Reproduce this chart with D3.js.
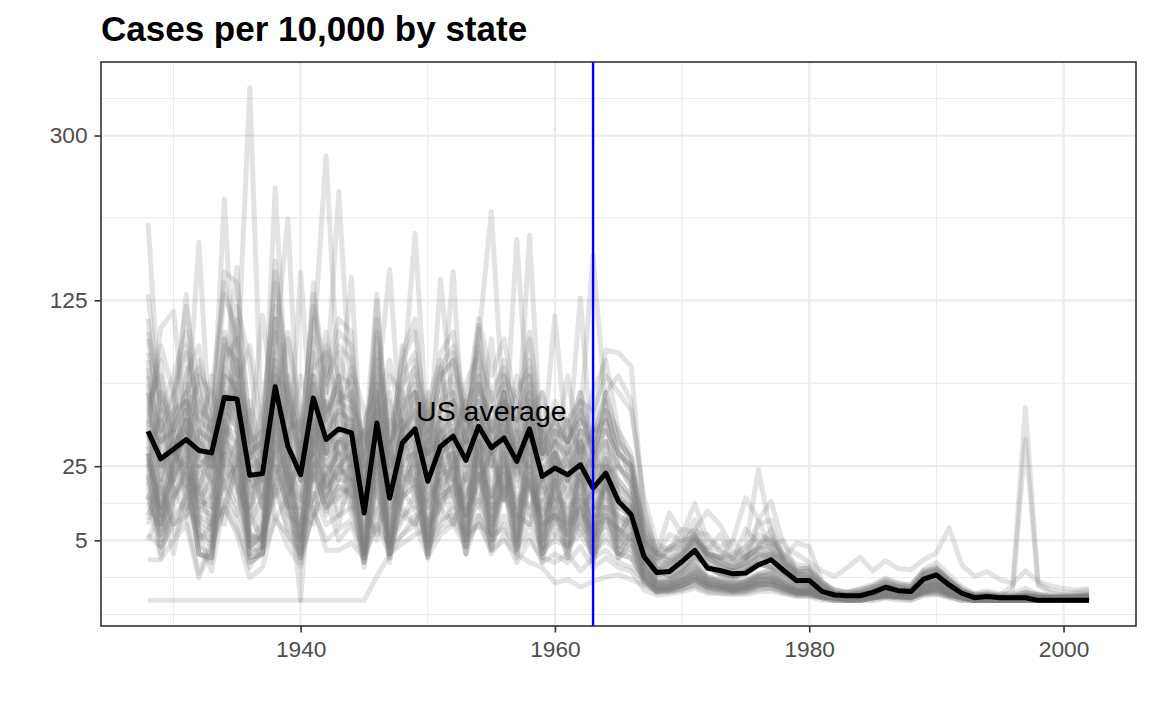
<!DOCTYPE html>
<html>
<head>
<meta charset="utf-8">
<script src="https://cdn.jsdelivr.net/npm/d3@7"></script>
<style>
  body { margin: 0; background: #fff; }
  svg { display: block; font-family: "Liberation Sans", Arial, Helvetica, sans-serif; }
</style>
</head>
<body>
<svg id="chart" width="1152" height="711"></svg>
<script>
// years shown on the x axis
var firstYear = 1928, lastYear = 2002;
var years = d3.range(firstYear, lastYear + 1);

// tick labels
var yBreaks = [5, 25, 125, 300];
var xBreaks = [1940, 1960, 1980, 2000];

// US average rate
var usAverage = [39.7, 27.8,
  31.7, 35.9, 31.2, 30.2, 57.3, 56.3, 21.7, 22.3, 63.3, 32.9,
  21.9, 56.9, 35.9, 40.8, 38.9, 10.6, 43.7, 14.5, 34.4, 40.8,
  19.7, 32.9, 37.4, 27.2, 42.1, 32.3, 36.6, 26.8, 40.8, 21.3,
  24.3, 21.9, 25.6, 17.5, 22.5, 13.6, 10.2, 2.67, 1.08, 1.15,
  2.1, 3.46, 1.44, 1.24, 0.98, 1.03, 1.75, 2.28, 1.24, 0.55,
  0.55, 0.11, 0.04, 0.03, 0.03, 0.09, 0.24, 0.13, 0.11, 0.63,
  0.9, 0.33, 0.07, 0.01, 0.02, 0.01, 0.01, 0.01, 0, 0,
  0, 0, 0];

// state rates (cases per 10,000), one value per year 1928..2002
var s01 = [198, 45,
  60, 85, 40, 22, 95, 70, 365, 30, 110, 55,
  25, 90, 274, 60, 35, 20, 95, 30, 60, 187,
  35, 70, 80, 40, 95, 210, 45, 60, 75, 30,
  50, 35, 60, 30, 55, 25, 20, 5, 2.5, 3.5,
  4, 6, 3, 2.2, 1.6, 2.5, 9, 3.6, 1.8, 1,
  0.8, 0.25, 0.08, 0.04, 0.08, 0.15, 0.4, 0.25, 0.15, 1,
  1.2, 0.5, 0.1, 0.04, 0.05, 0.02, 0.02, 0.1, 0.05, 0.02,
  0.02, 0.02, 0.05];
var s02 = [80, 30,
  45, 60, 25, 30, 224, 40, 12, 35, 90, 202,
  20, 40, 60, 232, 50, 15, 60, 25, 40, 80,
  30, 45, 150, 20, 40, 60, 30, 181, 40, 20,
  40, 25, 35, 20, 45, 15, 12, 3, 1, 1.3,
  2.2, 3.6, 1.6, 1.1, 0.8, 1.2, 2.1, 2.7, 1.1, 0.5,
  0.4, 0.06, 0.03, 0.02, 0.03, 0.06, 0.2, 0.08, 0.06, 0.5,
  0.7, 0.3, 0.06, 0.01, 0.01, 0.01, 0.01, 0.03, 0.01, 0.01,
  0.01, 0.01, 0.02];
var s03 = [60, 25,
  40, 130, 30, 20, 70, 154, 15, 25, 236, 45,
  20, 140, 40, 50, 145, 12, 60, 152, 30, 60,
  25, 143, 50, 30, 70, 40, 55, 30, 185, 25,
  30, 20, 45, 165, 50, 30, 25, 6, 2.2, 1.8,
  2.8, 6, 2.6, 2, 1.5, 2, 8, 9, 2, 1,
  0.9, 0.2, 0.04, 0.04, 0.08, 0.25, 0.3, 0.15, 0.08, 0.6,
  0.9, 0.35, 0.08, 0.02, 0.02, 0.01, 0.01, 0.05, 0.02, 0.01,
  0.01, 0.02, 0.02];
var s04 = [40, 103,
  116, 40, 178, 25, 50, 60, 35, 113, 45, 20,
  149, 30, 55, 40, 25, 30, 130, 20, 45, 35,
  40, 25, 60, 35, 102, 30, 60, 25, 45, 30,
  112, 30, 127, 25, 60, 35, 20, 4, 1.4, 2.2,
  3.2, 5.5, 2.6, 1.6, 1.2, 2, 3, 2.4, 1.2, 0.6,
  0.5, 0.08, 0.04, 0.03, 0.04, 0.08, 0.2, 0.15, 0.15, 0.7,
  1, 0.35, 0.06, 0.01, 0.02, 0.01, 0.01, 0.02, 0.01, 0.01,
  0.01, 0.01, 0.01];
var s05 = [45, 12,
  30, 50, 10, 8, 70, 60, 6, 5, 80, 30,
  4, 65, 30, 45, 40, 3, 50, 4, 35, 45,
  5, 35, 40, 7, 48, 9, 40, 6, 45, 5,
  25, 6, 28, 5, 25, 6, 10, 1.2, 0.3, 0.4,
  0.8, 1.4, 0.5, 0.4, 0.3, 0.35, 0.7, 0.9, 0.4, 0.15,
  0.15, 0.03, 0.01, 0.01, 0.01, 0.03, 0.1, 0.05, 0.04, 0.25,
  0.4, 0.15, 0.02, 0.01, 0.01, 0, 0, 0.01, 0, 0,
  0, 0, 0.01];
var s06 = [100, 60,
  20, 70, 90, 40, 30, 110, 45, 15, 60, 100,
  35, 25, 90, 70, 20, 45, 60, 25, 90, 40,
  60, 25, 85, 50, 30, 95, 35, 70, 50, 40,
  30, 70, 30, 60, 80, 40, 25, 8, 3, 6,
  5, 9, 4, 3.5, 2.5, 4, 6, 5, 3, 1.8,
  1.6, 0.5, 0.1, 0.08, 0.15, 0.25, 0.5, 0.35, 0.25, 1.2,
  1.6, 0.6, 0.15, 0.04, 0.05, 0.03, 0.02, 0.08, 0.04, 0.02,
  0.02, 0.03, 0.05];
var s07 = [12, 8,
  15, 20, 3, 2, 25, 18, 5, 6, 30, 10,
  8, 22, 12, 15, 18, 4, 20, 6, 15, 18,
  8, 15, 18, 10, 20, 12, 15, 9, 18, 8,
  10, 8, 12, 6, 10, 5, 4, 0.5, 0.1, 0.15,
  0.3, 0.6, 0.2, 0.15, 0.1, 0.12, 0.3, 0.4, 0.15, 0.06,
  0.05, 0.01, 0, 0, 0, 0.01, 0.03, 0.02, 0.01, 0.1,
  0.15, 0.05, 0.01, 0, 0, 0, 0, 0, 0, 0,
  0, 0, 0];
var s08 = [0, 0,
  0, 0, 0, 0, 0, 0, 0, 0, 0, 0,
  0, 0, 0, 0, 0, 0, 0.8, 3, 4.5, 6,
  7, 12, 20, 10, 25, 15, 30, 12, 20, 8,
  10, 6, 12, 5, 8, 4, 3, 0.4, 0.1, 0.2,
  0.3, 0.5, 0.25, 0.2, 0.12, 0.15, 0.3, 0.35, 0.2, 0.08,
  0.06, 0.02, 0.01, 0, 0, 0.01, 0.02, 0.02, 0.01, 0.08,
  0.1, 0.04, 0.01, 0, 0, 0, 0, 0, 0, 0,
  0, 0, 0];
var s09 = [30, 8,
  20, 35, 6, 4, 40, 35, 4, 3, 45, 20,
  0, 40, 18, 25, 30, 2.5, 35, 3, 28, 30,
  3, 25, 30, 5, 35, 6, 28, 4, 30, 3.5,
  18, 4, 20, 3, 18, 4, 7, 0.8, 0.2, 0.25,
  0.6, 1, 0.4, 0.3, 0.2, 0.25, 0.5, 0.6, 0.3, 0.1,
  0.1, 0.02, 0.01, 0.01, 0.01, 0.02, 0.06, 0.03, 0.02, 0.15,
  0.25, 0.08, 0.02, 0, 0, 0, 0, 0, 0, 0,
  0, 0, 0];
var s10 = [70, 35,
  45, 65, 40, 35, 90, 80, 25, 28, 100, 45,
  28, 85, 50, 60, 55, 15, 70, 20, 50, 60,
  25, 50, 55, 35, 65, 45, 55, 35, 60, 28,
  35, 28, 40, 22, 35, 20, 15, 3, 0.8, 1.1,
  2.1, 3.5, 1.4, 1.1, 0.8, 0.9, 1.7, 2.3, 1.1, 0.45,
  0.4, 0.06, 0.02, 0.02, 0.02, 0.05, 0.15, 0.08, 0.06, 0.4,
  0.6, 0.2, 0.04, 0.01, 0.01, 0.01, 0.01, 0.01, 0.01, 0,
  0, 0.01, 0.01];
var s11 = [2.3, 2.3,
  5, 8, 0.7, 4, 12, 6, 0.7, 1.5, 10, 4,
  1.6, 12, 3.5, 3.5, 4.6, 2.5, 8, 3, 6, 8,
  2.7, 6, 8, 4, 10, 5, 8, 3.5, 6, 2,
  3, 2, 4, 1.5, 2.5, 1.5, 1.2, 0.15, 0.04, 0.06,
  0.1, 0.2, 0.07, 0.06, 0.05, 0.05, 0.1, 0.12, 0.06, 0.02,
  0.02, 0, 0, 0, 0, 0, 0.01, 0, 0, 0.03,
  0.05, 0.01, 0, 0, 0, 0, 0, 0, 0, 0,
  0, 0, 0];
var s12 = [25, 50,
  20, 30, 55, 15, 35, 75, 30, 12, 40, 70,
  25, 30, 75, 25, 30, 40, 20, 55, 25, 35,
  50, 20, 35, 55, 25, 40, 60, 25, 35, 45,
  20, 35, 22, 28, 35, 25, 18, 4, 1, 0.6,
  1.4, 3, 1.5, 0.9, 0.6, 1, 1.8, 1.5, 0.9, 0.4,
  0.3, 0.06, 0.02, 0.02, 0.02, 0.04, 0.1, 0.08, 0.04, 0.3,
  0.5, 0.15, 0.03, 0.01, 0.01, 0, 0, 0.01, 0, 0,
  0, 0, 0.01];
var s13 = [95, 40,
  60, 90, 50, 45, 130, 100, 30, 35, 140, 60,
  35, 120, 65, 90, 80, 20, 100, 28, 70, 85,
  35, 70, 80, 45, 90, 60, 75, 45, 80, 35,
  45, 35, 50, 30, 50, 30, 25, 5, 2.5, 2.8,
  4, 6, 3, 2.5, 2, 2.4, 4, 7, 2.4, 1.2,
  1.2, 0.3, 0.04, 0.03, 0.04, 0.1, 0.3, 0.2, 0.12, 0.8,
  1.2, 0.45, 0.1, 0.02, 0.02, 0.01, 0.01, 0.02, 0.01, 0.01,
  0.01, 0.01, 0.02];
var s14 = [18, 5,
  22, 28, 4, 3, 35, 30, 3, 4, 40, 16,
  3, 30, 18, 22, 25, 2.5, 28, 3, 20, 25,
  3.5, 20, 24, 4, 28, 5, 22, 3.5, 25, 3,
  14, 3, 16, 2.5, 14, 3, 6, 0.6, 0.15, 0.2,
  0.4, 0.8, 0.3, 0.25, 0.18, 0.22, 0.4, 0.5, 0.22, 0.08,
  0.08, 0.02, 0.01, 0, 0.01, 0.01, 0.04, 0.02, 0.02, 0.12,
  0.2, 0.06, 0.01, 0, 0, 0, 0, 0, 0, 0,
  0, 0, 0];
var s15 = [55, 25,
  35, 50, 30, 28, 75, 60, 20, 22, 70, 35,
  22, 65, 35, 48, 45, 12, 55, 15, 40, 48,
  22, 40, 45, 30, 50, 38, 45, 28, 50, 22,
  30, 24, 35, 20, 30, 18, 14, 3, 0.9, 1.1,
  2, 3.4, 1.4, 1.1, 0.9, 1.1, 1.8, 2.4, 1.1, 0.5,
  0.45, 0.08, 0.03, 0.02, 0.04, 0.08, 0.25, 0.15, 0.12, 0.6,
  0.9, 0.4, 0.12, 0.04, 0.06, 0.04, 0.3, 51.6, 0.4, 0.15,
  0.08, 0.1, 0.15];
var s16 = [35, 9,
  25, 40, 8, 6, 50, 45, 5, 4, 55, 25,
  4, 50, 25, 35, 32, 3.5, 40, 4, 30, 35,
  5, 30, 35, 6, 40, 8, 35, 5, 38, 4,
  22, 5, 25, 4, 22, 5, 10, 1.2, 0.4, 0.45,
  0.9, 1.6, 0.6, 0.45, 0.35, 0.4, 0.8, 1, 0.45, 0.2,
  0.2, 0.05, 0.02, 0.01, 0.02, 0.04, 0.12, 0.06, 0.05, 0.35,
  0.5, 0.2, 0.04, 0.02, 0.02, 0.02, 0.1, 35.9, 0.3, 0.08,
  0.04, 0.06, 0.08];
var s17 = [20, 10,
  30, 25, 12, 15, 45, 20, 8, 15, 35, 12,
  12, 35, 15, 25, 20, 8, 30, 10, 25, 20,
  12, 25, 20, 15, 30, 15, 25, 12, 22, 10,
  15, 12, 15, 10, 18, 12, 10, 5, 3, 10.6,
  6, 13, 5, 4, 5, 14.6, 9, 13.6, 4, 3,
  2, 1.2, 0.8, 1.5, 2.6, 1.2, 2.2, 1.4, 1.3, 2.3,
  3.1, 7.3, 1.75, 0.8, 1.15, 0.6, 0.4, 1.2, 0.5, 0.3,
  0.2, 0.15, 0.2];
var s18 = [28, 6,
  18, 32, 7, 5, 42, 38, 4, 5, 48, 22,
  5, 45, 22, 30, 28, 3, 35, 3.5, 26, 30,
  4, 28, 30, 5, 35, 6, 30, 4.5, 32, 4,
  20, 4.5, 22, 3.5, 20, 4, 9, 2.5, 1.2, 2,
  2.5, 5, 3, 2.5, 3, 4, 23.7, 6, 2, 1,
  0.8, 0.3, 0.15, 0.1, 0.2, 0.35, 0.7, 0.4, 0.35, 1.2,
  1.4, 0.6, 0.2, 0.06, 0.12, 0.06, 0.06, 0.2, 0.06, 0.03,
  0.03, 0.03, 0.06];
var s19 = [50, 30,
  30, 45, 35, 25, 60, 50, 20, 25, 65, 35,
  20, 55, 35, 40, 45, 15, 50, 18, 40, 50,
  25, 40, 50, 35, 55, 40, 50, 30, 55, 30,
  40, 35, 45, 40, 87, 85, 76, 10, 3.5, 3.8,
  5, 5.5, 3, 2.6, 2.4, 2.6, 3.6, 4, 2.2, 1.1,
  1.2, 0.3, 0.07, 0.04, 0.06, 0.15, 0.3, 0.2, 0.15, 0.7,
  1, 0.4, 0.08, 0.02, 0.02, 0.01, 0.01, 0.03, 0.01, 0.01,
  0.01, 0.01, 0.02];
var s20 = [40, 20,
  35, 40, 25, 30, 55, 40, 25, 20, 50, 30,
  25, 45, 30, 35, 40, 18, 40, 22, 35, 40,
  30, 35, 40, 30, 45, 35, 40, 30, 45, 28,
  35, 30, 40, 35, 60, 70, 55, 12, 3, 2,
  3, 4.5, 2.4, 1.8, 1.5, 1.8, 3, 3, 1.6, 0.7,
  0.6, 0.12, 0.05, 0.03, 0.04, 0.1, 0.2, 0.12, 0.1, 0.5,
  0.8, 0.3, 0.06, 0.01, 0.02, 0.01, 0.01, 0.02, 0.01, 0.01,
  0.01, 0.01, 0.01];
var s21 = [15, 6,
  10, 14, 5, 8, 20, 12, 4, 6, 18, 7,
  5, 16, 8, 10, 12, 3, 14, 5, 10, 12,
  5, 9, 10, 6, 8, 3.5, 5, 3, 2, 1.5,
  0.43, 0.6, 0.25, 0.5, 0.75, 0.9, 0.6, 0.3, 0.15, 0.2,
  0.3, 0.6, 0.3, 0.2, 0.15, 0.2, 0.4, 0.4, 0.2, 0.1,
  0.1, 0.02, 0.01, 0, 0.01, 0.02, 0.04, 0.02, 0.02, 0.15,
  0.2, 0.08, 0.01, 0, 0, 0, 0, 0, 0, 0,
  0, 0, 0];
var s22 = [25, 4,
  15, 22, 3, 2.5, 30, 20, 2.5, 3, 25, 12,
  2.5, 25, 12, 18, 15, 2, 20, 2.5, 15, 18,
  3, 14, 16, 3, 10, 3, 6, 2, 5, 2.5,
  2, 3, 1.2, 2.5, 3.5, 2, 1.5, 0.6, 0.2, 0.3,
  0.5, 0.8, 0.4, 0.3, 0.25, 0.3, 0.5, 0.6, 0.3, 0.15,
  0.15, 0.03, 0.01, 0.01, 0.01, 0.03, 0.06, 0.04, 0.03, 0.2,
  0.3, 0.1, 0.02, 0, 0, 0, 0, 0, 0, 0,
  0, 0, 0];
var s23 = [35, 45,
  15, 25, 40, 35, 28, 65, 40, 10, 30, 55,
  30, 20, 55, 20, 60, 25, 15, 45, 40, 20,
  35, 45, 20, 40, 55, 20, 45, 30, 25, 40,
  15, 30, 18, 25, 25, 20, 15, 5, 1.3, 0.8,
  1.4, 2.7, 1.6, 1, 0.7, 1, 1.8, 1.6, 0.9, 0.45,
  0.35, 0.06, 0.02, 0.02, 0.02, 0.05, 0.12, 0.08, 0.05, 0.3,
  0.5, 0.15, 0.03, 0.01, 0.01, 0.01, 0.01, 0.01, 0.01, 0,
  0, 0, 0];
var s24 = [65, 12,
  50, 75, 14, 12, 100, 75, 5, 8, 110, 40,
  6, 95, 45, 70, 65, 4, 80, 5, 55, 70,
  6, 55, 65, 8, 75, 10, 60, 7, 70, 6,
  35, 7, 40, 6, 35, 7, 12, 2, 0.5, 0.6,
  1.1, 2.2, 0.8, 0.6, 0.45, 0.55, 1, 1.3, 0.6, 0.25,
  0.25, 0.05, 0.02, 0.01, 0.02, 0.04, 0.12, 0.06, 0.05, 0.3,
  0.5, 0.18, 0.03, 0.01, 0.01, 0, 0, 0.01, 0, 0,
  0, 0, 0.01];
var s25 = [45, 35,
  40, 55, 35, 28, 65, 55, 25, 25, 75, 40,
  22, 70, 40, 50, 45, 14, 55, 20, 40, 50,
  25, 38, 42, 28, 48, 32, 42, 25, 45, 20,
  28, 20, 30, 18, 28, 15, 12, 3, 2, 4,
  5, 7, 11, 7.9, 3.5, 2.5, 4, 5, 2, 1.2,
  1.2, 0.4, 0.15, 0.08, 0.15, 0.3, 0.6, 0.4, 0.3, 1.3,
  2, 0.9, 0.25, 0.06, 0.08, 0.04, 0.04, 0.08, 0.04, 0.02,
  0.02, 0.03, 0.04];
var s26 = [8, 15,
  6, 10, 18, 8, 12, 25, 12, 4, 15, 22,
  10, 8, 25, 10, 20, 12, 6, 20, 10, 8,
  15, 20, 8, 16, 22, 8, 18, 10, 8, 14,
  6, 10, 6, 8, 9, 7, 5, 0.8, 0.15, 0.1,
  0.2, 0.4, 0.25, 0.15, 0.1, 0.15, 0.25, 0.25, 0.12, 0.05,
  0.05, 0.01, 0, 0, 0, 0.01, 0.02, 0.01, 0.01, 0.06,
  0.1, 0.03, 0.01, 0, 0, 0, 0, 0, 0, 0,
  0, 0, 0];
var s27 = [50, 80,
  30, 35, 70, 60, 40, 120, 80, 20, 45, 95,
  50, 30, 100, 40, 75, 50, 25, 70, 60, 30,
  55, 80, 30, 65, 85, 30, 70, 55, 35, 60,
  25, 45, 28, 40, 40, 30, 25, 5, 1.8, 1.2,
  2, 4, 2.5, 1.6, 1.2, 1.6, 2.5, 2.4, 1.3, 0.65,
  0.55, 0.12, 0.04, 0.03, 0.03, 0.08, 0.22, 0.15, 0.1, 0.55,
  0.8, 0.3, 0.06, 0.02, 0.02, 0.01, 0.01, 0.02, 0.01, 0.01,
  0.01, 0.01, 0.01];
var s28 = [30, 10,
  28, 38, 9, 7, 48, 42, 6, 5, 52, 28,
  5, 48, 28, 36, 34, 4, 40, 4.5, 32, 38,
  5, 30, 34, 6, 38, 7, 34, 5.5, 36, 5,
  24, 6, 26, 5, 24, 5.5, 11, 1.5, 0.4, 0.5,
  1, 1.8, 0.6, 0.5, 0.4, 0.45, 0.8, 1, 0.5, 0.2,
  0.2, 0.04, 0.02, 0.01, 0.01, 0.03, 0.1, 0.05, 0.04, 0.25,
  0.4, 0.14, 0.02, 0, 0.01, 0, 0, 0.01, 0, 0,
  0, 0, 0];
var s29 = [130, 50,
  70, 100, 45, 60, 140, 90, 35, 40, 150, 70,
  40, 110, 60, 100, 90, 25, 110, 35, 80, 100,
  40, 85, 100, 50, 110, 70, 95, 50, 100, 40,
  55, 40, 60, 35, 60, 35, 28, 6, 3, 3.5,
  4.5, 7, 3.5, 6, 2.2, 7, 4.5, 5.5, 2.8, 1.4,
  1.4, 0.4, 0.06, 0.04, 0.06, 0.15, 0.4, 0.25, 0.18, 1,
  1.4, 0.55, 0.1, 0.03, 0.03, 0.01, 0.01, 0.03, 0.01, 0.01,
  0.01, 0.01, 0.02];
var s30 = [12, 20,
  8, 15, 25, 12, 18, 35, 18, 6, 22, 30,
  14, 12, 35, 14, 28, 18, 9, 28, 16, 12,
  20, 28, 12, 22, 30, 12, 26, 15, 12, 20,
  9, 15, 9, 12, 12, 10, 8, 1, 0.25, 0.15,
  0.3, 0.6, 0.35, 0.25, 0.15, 0.25, 0.35, 0.35, 0.2, 0.08,
  0.08, 0.02, 0.01, 0, 0, 0.01, 0.03, 0.02, 0.01, 0.1,
  0.15, 0.05, 0.01, 0, 0, 0, 0, 0, 0, 0,
  0, 0, 0];
var s31 = [110, 35,
  55, 120, 60, 40, 150, 140, 40, 30, 160, 60,
  30, 130, 70, 110, 100, 18, 125, 25, 85, 110,
  30, 75, 90, 40, 105, 50, 80, 40, 95, 30,
  45, 30, 55, 25, 45, 25, 20, 3.5, 1.4, 1.5,
  3, 5, 2, 1.5, 1.2, 1.4, 2.7, 3.3, 1.5, 0.75,
  0.7, 0.15, 0.04, 0.03, 0.04, 0.1, 0.3, 0.15, 0.12, 0.7,
  1, 0.35, 0.07, 0.02, 0.02, 0.01, 0.01, 0.02, 0.01, 0.01,
  0.01, 0.01, 0.01];
var s32 = [38, 26,
  32, 42, 28, 24, 55, 48, 18, 20, 60, 30,
  20, 55, 32, 40, 38, 11, 45, 15, 35, 42,
  20, 34, 38, 25, 42, 30, 38, 22, 40, 18,
  26, 20, 28, 16, 26, 16, 12, 3.2, 1.2, 1.5,
  2.2, 3.6, 1.6, 1.3, 1.2, 1.5, 2.4, 3, 2.5, 4.6,
  4, 0.5, 0.15, 0.08, 0.12, 0.25, 0.5, 0.3, 0.25, 1,
  1.3, 0.5, 0.12, 0.03, 0.04, 0.02, 0.02, 0.04, 0.02, 0.01,
  0.01, 0.02, 0.03];
var s33 = [22, 3,
  14, 26, 3, 2.5, 32, 28, 2.5, 3, 38, 14,
  2.5, 30, 14, 20, 20, 1.5, 26, 2, 18, 22,
  2.5, 18, 22, 3, 26, 3.5, 20, 2.5, 22, 2,
  12, 2.5, 14, 2, 12, 2.5, 5, 0.5, 0.12, 0.15,
  0.3, 0.6, 0.22, 0.18, 0.15, 0.18, 0.3, 0.35, 0.18, 0.07,
  0.07, 0.01, 0.01, 0, 0, 0.01, 0.03, 0.02, 0.01, 0.1,
  0.15, 0.05, 0.01, 0, 0, 0, 0, 0, 0, 0,
  0, 0, 0];
var s34 = [85, 55,
  40, 60, 75, 30, 80, 95, 28, 50, 120, 45,
  40, 75, 85, 55, 70, 30, 85, 40, 65, 75,
  45, 60, 70, 45, 80, 55, 65, 40, 70, 35,
  45, 35, 50, 30, 50, 40, 30, 7, 3, 2.5,
  3.5, 5.5, 3.2, 2.4, 1.8, 2.6, 3.8, 4.2, 5, 1,
  1, 0.25, 0.06, 0.04, 0.06, 0.12, 0.3, 0.2, 0.15, 0.8,
  1.2, 0.5, 0.12, 0.03, 0.03, 0.02, 0.02, 0.03, 0.02, 0.01,
  0.01, 0.01, 0.02];
var s35 = [18, 35,
  40, 18, 30, 45, 25, 35, 50, 15, 30, 40,
  45, 18, 40, 30, 35, 40, 22, 35, 45, 25,
  30, 40, 25, 35, 30, 45, 25, 40, 30, 35,
  25, 28, 20, 30, 22, 25, 18, 4, 1.2, 0.9,
  1.5, 2.7, 1.6, 1, 0.8, 1.2, 1.8, 1.6, 1, 0.45,
  0.35, 0.06, 0.03, 0.02, 0.02, 0.05, 0.12, 0.09, 0.06, 0.3,
  0.5, 0.18, 0.04, 0.01, 0.01, 0, 0, 0.01, 0, 0,
  0, 0, 0.01];
var s36 = [60, 40,
  50, 55, 45, 40, 70, 65, 30, 35, 80, 50,
  30, 70, 50, 55, 60, 25, 65, 30, 55, 60,
  40, 50, 55, 45, 60, 50, 55, 45, 60, 40,
  50, 45, 55, 50, 70, 60, 50, 15, 4.5, 3.5,
  7, 6.5, 6, 3.2, 2.5, 3.2, 5, 4.5, 2.6, 1.3,
  1.5, 0.45, 0.07, 0.05, 0.07, 0.18, 0.4, 0.25, 0.2, 1,
  1.4, 0.6, 0.14, 0.03, 0.03, 0.02, 0.02, 0.03, 0.01, 0.01,
  0.01, 0.01, 0.03];
var s37 = [9, 22,
  35, 12, 8, 30, 18, 10, 28, 40, 9, 15,
  30, 10, 20, 35, 12, 28, 15, 9, 40, 14,
  25, 10, 30, 18, 12, 35, 14, 30, 10, 25,
  12, 20, 8, 18, 15, 9, 7, 1.8, 0.3, 0.25,
  0.5, 0.9, 0.4, 0.3, 0.2, 0.3, 0.6, 0.5, 0.25, 0.1,
  0.1, 0.02, 0.01, 0.01, 0.01, 0.02, 0.05, 0.03, 0.02, 0.12,
  0.2, 0.06, 0.01, 0, 0, 0, 0, 0, 0, 0,
  0, 0, 0];
var s38 = [5, 12,
  3, 18, 6, 1.2, 14, 9, 1.5, 4, 20, 6,
  3, 10, 15, 5, 8, 2, 12, 4, 9, 16,
  4, 8, 12, 6, 14, 4, 10, 5, 12, 3,
  6, 4, 8, 3, 6, 3, 2.5, 0.6, 0.08, 0.1,
  0.15, 0.3, 0.1, 0.08, 0.06, 0.08, 0.15, 0.2, 0.08, 0.03,
  0.03, 0.01, 0, 0, 0, 0, 0.01, 0.01, 0, 0.05,
  0.06, 0.02, 0, 0, 0, 0, 0, 0, 0, 0,
  0, 0, 0];
var s39 = [20, 60,
  45, 15, 35, 70, 20, 25, 55, 30, 15, 65,
  40, 20, 50, 65, 15, 35, 45, 60, 20, 30,
  55, 30, 15, 50, 35, 25, 60, 20, 40, 30,
  30, 20, 35, 25, 20, 18, 14, 6, 1.4, 0.8,
  1.2, 2.6, 1.8, 0.9, 0.6, 1.2, 2, 1.5, 0.8, 0.4,
  0.3, 0.05, 0.02, 0.02, 0.02, 0.04, 0.1, 0.07, 0.04, 0.25,
  0.4, 0.12, 0.03, 0.01, 0.01, 0, 0, 0.01, 0, 0,
  0, 0, 0];
var s40 = [30, 12,
  22, 45, 14, 20, 40, 18, 10, 30, 25, 12,
  35, 28, 10, 40, 22, 12, 30, 35, 14, 28,
  16, 40, 22, 12, 35, 28, 14, 38, 18, 12,
  25, 15, 22, 12, 18, 14, 9, 2.5, 0.5, 0.35,
  0.6, 1.2, 0.7, 0.45, 0.3, 0.5, 0.8, 0.7, 0.4, 0.15,
  0.15, 0.03, 0.01, 0.01, 0.01, 0.03, 0.07, 0.05, 0.03, 0.18,
  0.3, 0.1, 0.02, 0, 0, 0, 0, 0, 0, 0,
  0, 0, 0];
var s41 = [6, 4,
  8, 10, 1, 5, 12, 7, 2, 3, 9, 6,
  2.5, 11, 5, 7, 9, 3, 8, 4, 6, 10,
  4, 7, 9, 5, 8, 6, 7, 4, 8, 3.5,
  5, 4, 6, 3, 5, 3, 2.5, 0.7, 0.1, 0.12,
  0.2, 0.35, 0.15, 0.1, 0.08, 0.1, 0.2, 0.22, 0.1, 0.04,
  0.04, 0.01, 0, 0, 0, 0.01, 0.02, 0.01, 0.01, 0.06,
  0.08, 0.02, 0, 0, 0, 0, 0, 0, 0, 0,
  0, 0, 0];
var s42 = [75, 20,
  40, 55, 18, 30, 95, 50, 12, 20, 85, 25,
  15, 70, 30, 55, 50, 4, 65, 5, 45, 55,
  14, 45, 50, 20, 55, 25, 48, 18, 55, 14,
  30, 16, 32, 12, 28, 12, 10, 2, 0.45, 0.55,
  1.1, 2, 0.7, 0.55, 0.4, 0.5, 0.95, 1.2, 0.55, 0.22,
  0.22, 0.05, 0.02, 0.01, 0.02, 0.04, 0.12, 0.06, 0.05, 0.3,
  0.45, 0.15, 0.03, 0.01, 0.01, 0, 0, 0.01, 0, 0,
  0, 0, 0.01];
var s43 = [40, 8,
  25, 45, 12, 10, 60, 45, 4, 6, 65, 15,
  5, 55, 15, 35, 30, 3, 45, 5, 30, 40,
  6, 30, 35, 10, 40, 15, 35, 8, 38, 6,
  20, 8, 22, 6, 20, 6, 5, 1, 0.2, 0.3,
  0.6, 1.1, 0.4, 0.3, 0.25, 0.3, 0.55, 0.7, 0.3, 0.12,
  0.12, 0.03, 0.01, 0.01, 0.01, 0.02, 0.06, 0.03, 0.03, 0.18,
  0.28, 0.09, 0.02, 0, 0, 0, 0, 0, 0, 0,
  0, 0, 0];
var s44 = [14, 28,
  18, 10, 25, 20, 8, 30, 22, 12, 35, 16,
  28, 14, 22, 30, 10, 20, 26, 12, 18, 32,
  12, 22, 28, 10, 20, 30, 14, 25, 18, 10,
  18, 22, 12, 16, 20, 10, 8, 2, 0.4, 0.25,
  0.45, 0.9, 0.55, 0.35, 0.25, 0.4, 0.6, 0.55, 0.3, 0.12,
  0.12, 0.02, 0.01, 0.01, 0.01, 0.02, 0.05, 0.04, 0.02, 0.14,
  0.22, 0.07, 0.01, 0, 0, 0, 0, 0, 0, 0,
  0, 0, 0];
var s45 = [55, 70,
  30, 50, 65, 25, 45, 80, 35, 28, 70, 60,
  25, 60, 45, 70, 30, 40, 75, 35, 50, 65,
  30, 55, 60, 35, 70, 30, 50, 45, 65, 30,
  40, 35, 45, 30, 40, 30, 22, 7, 2.4, 1.6,
  2.5, 4.5, 3, 2, 1.4, 2, 3.2, 2.8, 1.6, 0.8,
  0.7, 0.15, 0.04, 0.03, 0.03, 0.08, 0.2, 0.14, 0.1, 0.5,
  0.8, 0.3, 0.06, 0.02, 0.02, 0.01, 0.01, 0.02, 0.01, 0.01,
  0.01, 0.01, 0.01];
var s46 = [10, 18,
  8, 12, 20, 6, 15, 28, 10, 5, 18, 25,
  6, 15, 22, 8, 25, 14, 5, 22, 12, 8,
  20, 12, 8, 22, 15, 6, 24, 10, 8, 20,
  8, 12, 7, 10, 10, 7, 6, 1.5, 0.3, 0.15,
  0.3, 0.6, 0.4, 0.25, 0.15, 0.25, 0.4, 0.35, 0.2, 0.08,
  0.08, 0.02, 0.01, 0, 0, 0.01, 0.03, 0.02, 0.01, 0.09,
  0.15, 0.04, 0.01, 0, 0, 0, 0, 0, 0, 0,
  0, 0, 0];
var s47 = [26, 16,
  30, 22, 16, 38, 26, 14, 30, 24, 42, 18,
  14, 36, 26, 20, 42, 16, 24, 30, 22, 18,
  34, 16, 26, 38, 20, 30, 18, 34, 24, 16,
  20, 26, 16, 22, 18, 14, 11, 3, 0.6, 0.4,
  0.7, 1.4, 0.8, 0.5, 0.35, 0.55, 0.9, 0.8, 0.45, 0.2,
  0.2, 0.04, 0.02, 0.01, 0.01, 0.03, 0.08, 0.06, 0.03, 0.2,
  0.35, 0.1, 0.02, 0.01, 0, 0, 0, 0, 0, 0,
  0, 0, 0];
var s48 = [45, 90,
  60, 25, 80, 50, 35, 65, 90, 40, 55, 35,
  70, 45, 30, 85, 55, 35, 50, 80, 40, 60,
  45, 75, 35, 55, 65, 40, 70, 35, 50, 60,
  35, 45, 30, 40, 45, 35, 28, 9, 3.2, 2.2,
  3, 5, 3.5, 2.5, 5, 2.6, 3.8, 3.4, 2, 0.9,
  0.8, 0.2, 0.05, 0.03, 0.05, 0.1, 0.25, 0.18, 0.12, 0.6,
  0.9, 0.35, 0.08, 0.02, 0.02, 0.01, 0.01, 0.02, 0.01, 0.01,
  0.01, 0.01, 0.02];
var s49 = [16, 2.5,
  12, 24, 3, 2.5, 30, 20, 2, 3, 28, 11,
  2, 26, 11, 18, 16, 2, 22, 2.5, 16, 20,
  2.5, 15, 18, 3, 22, 3.5, 18, 3, 20, 2.5,
  10, 2.5, 11, 2, 9, 2.5, 4, 0.8, 0.15, 0.2,
  0.35, 0.7, 0.25, 0.2, 0.15, 0.18, 0.35, 0.45, 0.2, 0.08,
  0.08, 0.02, 0.01, 0, 0.01, 0.01, 0.04, 0.02, 0.02, 0.12,
  0.18, 0.06, 0.01, 0, 0, 0, 0, 0, 0, 0,
  0, 0, 0];
var s50 = [33, 7,
  26, 36, 6, 5, 44, 32, 3, 4, 50, 20,
  3, 40, 16, 24, 20, 2.5, 30, 3, 18, 26,
  3, 22, 24, 4, 28, 4.5, 22, 3.5, 24, 3,
  14, 3.5, 15, 3, 12, 3, 6, 1.2, 0.25, 0.35,
  0.6, 1.1, 0.4, 0.3, 0.25, 0.3, 0.55, 0.7, 0.3, 0.12,
  0.12, 0.02, 0.01, 0.01, 0.01, 0.02, 0.06, 0.03, 0.03, 0.2,
  0.3, 0.1, 0.02, 0, 0, 0, 0, 0, 0, 0,
  0, 0, 0];

var stateSeries = [s01, s02, s03, s04, s05, s06, s07, s08, s09, s10,
  s11, s12, s13, s14, s15, s16, s17, s18, s19, s20,
  s21, s22, s23, s24, s25, s26, s27, s28, s29, s30,
  s31, s32, s33, s34, s35, s36, s37, s38, s39, s40,
  s41, s42, s43, s44, s45, s46, s47, s48, s49, s50];

var labelYear = 1955, labelRate = 50, vaccineYear = 1963;

// ---- layout (panel edges)
var svg = d3.select("#chart");
var pLeft = 101, pRight = 1136, pTop = 62, pBottom = 626;

// ggplot-like 5% expansion
var span = lastYear - firstYear;
var x = d3.scaleLinear()
  .domain([firstYear - 0.05 * span, lastYear + 0.05 * span])
  .range([pLeft, pRight]);

var maxRate = d3.max(stateSeries, function (s) { return d3.max(s); });
var m = Math.sqrt(maxRate);
var y = d3.scaleSqrt()
  .domain([-Math.pow(0.05 * m, 2), Math.pow(1.05 * m, 2)])
  .range([pBottom, pTop]);

// minor breaks the way ggplot does them (midpoints in sqrt space)
var tb = yBreaks.map(Math.sqrt);
var bd = tb[1] - tb[0];
tb = [tb[0] - bd].concat(tb, [tb[tb.length - 1] + bd]);
var yMinor = [];
for (var i = 0; i < tb.length - 1; i++) {
  yMinor.push(tb[i], (tb[i] + tb[i + 1]) / 2);
}
yMinor.push(tb[tb.length - 1]);
yMinor = yMinor.map(function (t) { return t < 0 ? -t * t : t * t; })
  .filter(function (v) { return y(v) >= pTop && y(v) <= pBottom; });
var xMinor = [1930, 1950, 1970, 1990];

var grid = svg.append("g");
grid.selectAll(".ymin").data(yMinor).enter().append("line")
  .attr("x1", pLeft).attr("x2", pRight)
  .attr("y1", function (d) { return y(d); }).attr("y2", function (d) { return y(d); })
  .attr("stroke", "#ebebeb").attr("stroke-width", 1.1);
grid.selectAll(".xmin").data(xMinor).enter().append("line")
  .attr("y1", pTop).attr("y2", pBottom)
  .attr("x1", function (d) { return x(d); }).attr("x2", function (d) { return x(d); })
  .attr("stroke", "#ebebeb").attr("stroke-width", 1.1);
grid.selectAll(".ymaj").data(yBreaks).enter().append("line")
  .attr("x1", pLeft).attr("x2", pRight)
  .attr("y1", function (d) { return y(d); }).attr("y2", function (d) { return y(d); })
  .attr("stroke", "#ebebeb").attr("stroke-width", 2.2);
grid.selectAll(".xmaj").data(xBreaks).enter().append("line")
  .attr("y1", pTop).attr("y2", pBottom)
  .attr("x1", function (d) { return x(d); }).attr("x2", function (d) { return x(d); })
  .attr("stroke", "#ebebeb").attr("stroke-width", 2.2);

var line = d3.line()
  .x(function (d, i) { return x(years[i]); })
  .y(function (d) { return y(d); });

svg.append("g").selectAll("path")
  .data(stateSeries)
  .enter().append("path")
  .attr("d", line)
  .attr("fill", "none")
  .attr("stroke", "#7f7f7f")
  .attr("stroke-opacity", 0.22)
  .attr("stroke-width", 5)
  .attr("stroke-linejoin", "round");

svg.append("path")
  .datum(usAverage)
  .attr("d", line)
  .attr("fill", "none")
  .attr("stroke", "#000")
  .attr("stroke-width", 5)
  .attr("stroke-linejoin", "round");

svg.append("text")
  .attr("x", x(labelYear))
  .attr("y", y(labelRate))
  .attr("text-anchor", "middle")
  .attr("dy", "0.35em")
  .attr("font-size", 28.5)
  .attr("fill", "#000")
  .text("US average");

svg.append("line")
  .attr("x1", x(vaccineYear)).attr("x2", x(vaccineYear))
  .attr("y1", pTop).attr("y2", pBottom)
  .attr("stroke", "#0000ff").attr("stroke-width", 2.4);

svg.append("rect")
  .attr("x", pLeft).attr("y", pTop)
  .attr("width", pRight - pLeft).attr("height", pBottom - pTop)
  .attr("fill", "none").attr("stroke", "#333").attr("stroke-width", 1.6);

// axes
var yAxis = svg.append("g")
  .attr("transform", "translate(" + pLeft + ",0)")
  .call(d3.axisLeft(y).tickValues(yBreaks).tickSize(6.5).tickPadding(7));
var xAxis = svg.append("g")
  .attr("transform", "translate(0," + pBottom + ")")
  .call(d3.axisBottom(x).tickValues(xBreaks).tickFormat(d3.format("d")).tickSize(6.5).tickPadding(8));
[yAxis, xAxis].forEach(function (a) {
  a.select(".domain").remove();
  a.selectAll(".tick line").attr("stroke", "#333").attr("stroke-width", 1.6);
  a.selectAll(".tick text").attr("fill", "#4d4d4d")
    .attr("font-size", 22.7).attr("font-family", "Liberation Sans, Arial, sans-serif");
});

svg.append("text")
  .attr("x", pLeft)
  .attr("y", 41)
  .attr("font-size", 35)
  .attr("font-weight", "bold")
  .attr("fill", "#000")
  .text("Cases per 10,000 by state");
</script>
</body>
</html>
